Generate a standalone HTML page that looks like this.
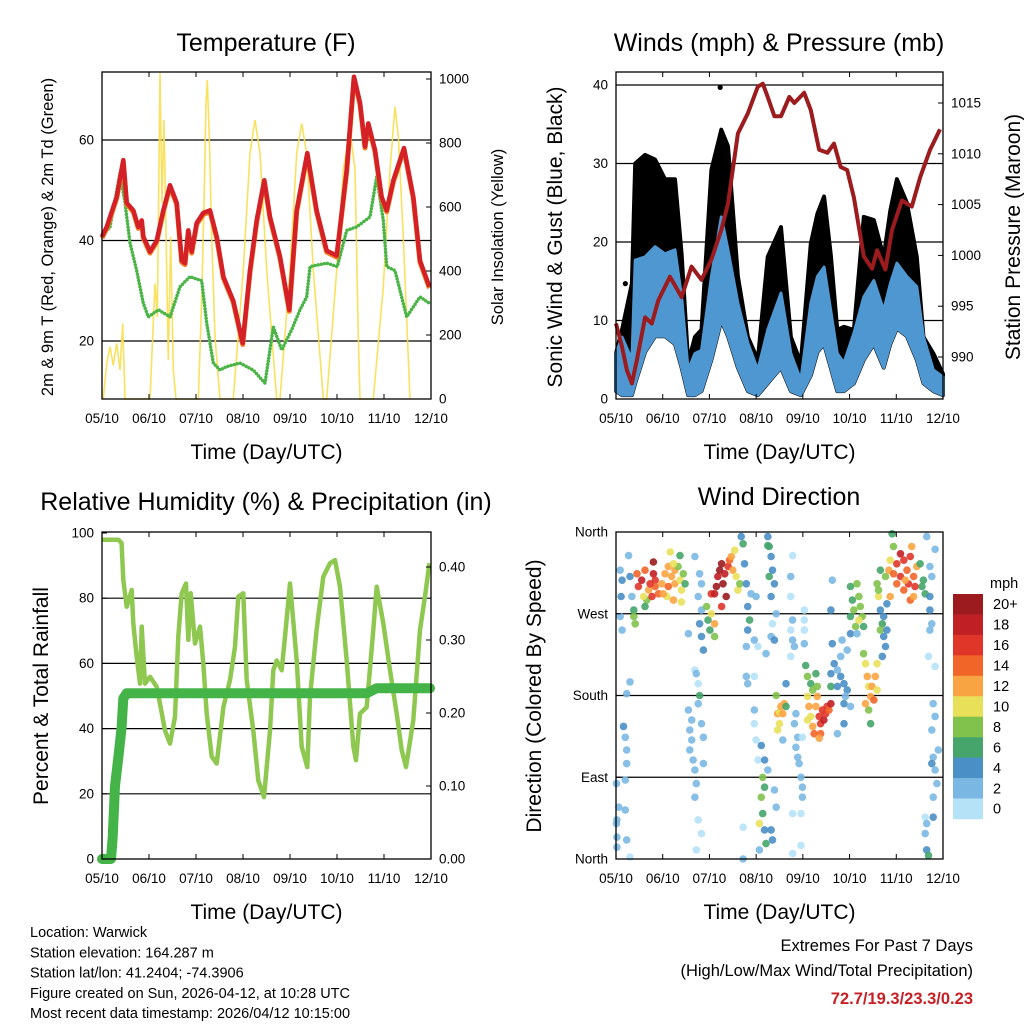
<!DOCTYPE html>
<html><head><meta charset="utf-8">
<style>
html,body{margin:0;padding:0;background:#fff;}
svg{display:block;font-family:"Liberation Sans",Arial,sans-serif;}
</style></head>
<body>
<svg id="chart" width="1024" height="1024" viewBox="0 0 1024 1024">
<rect x="0" y="0" width="1024" height="1024" fill="#fff"/>
<g id="layer"></g>
</svg>
<script>
// ---------- Data ----------
const dayLabels = ["05/10","06/10","07/10","08/10","09/10","10/10","11/10","12/10"];

// Temperature (F)
const tempTimes = [0,0.099,0.312,0.454,0.525,0.667,0.773,0.844,0.879,1.021,1.163,1.305,1.447,1.589,1.695,1.766,1.837,1.908,2.014,2.156,2.298,2.44,2.582,2.794,2.993,3.149,3.291,3.454,3.574,3.787,3.986,4.142,4.369,4.567,4.78,4.993,5.206,5.362,5.489,5.596,5.667,5.809,5.95,6.057,6.199,6.426,6.624,6.766,6.965];
const tempVals = [40.8,42.7,48.7,56,47.5,46,42.7,44,40.8,37.8,40,46,51,47.5,36,35.5,42,37.8,43.5,45.5,46,40.8,32.8,28,19.6,34,44,52,44.7,36.8,26.2,46,57.4,46,38,37,54,72.6,67.4,58.7,63.3,58,48.7,46,52,58.4,48.7,36,30.8];
const dewTimes = [0,0.17,0.383,0.489,0.596,0.738,0.879,0.986,1.199,1.447,1.66,1.872,2.121,2.227,2.369,2.511,2.652,2.936,3.22,3.468,3.645,3.823,4.035,4.213,4.355,4.426,4.78,5.007,5.206,5.418,5.702,5.844,5.986,6.057,6.234,6.482,6.766,6.965];
const dewVals = [40.8,42.7,53.4,47.5,39.5,34,27.5,24.8,26.2,24.8,30.8,32.8,32,23.6,15.6,14.2,14.9,15.6,14.2,11.6,22.8,18.2,22.2,26.2,28.8,34.8,35.5,34.8,42,42.7,44.7,52.7,44,34.8,34,24.8,28.8,27.5];
const solarTimes = [0.028,0.099,0.17,0.241,0.312,0.383,0.44,0.489,1.021,1.128,1.177,1.234,1.277,1.319,1.376,1.411,1.461,1.518,1.574,2.05,2.12,2.17,2.213,2.241,2.284,2.333,2.404,2.511,2.794,3.007,3.149,3.255,3.362,3.504,3.716,3.787,4.0,4.142,4.248,4.355,4.496,4.709,4.78,4.993,5.135,5.277,5.383,5.454,5.489,5.773,5.986,6.128,6.234,6.305,6.411,6.553];
const solarVals = [0,111,163,105,174,90,236,0,0,361,257,1018,611,872,403,122,507,90,0,0,299,611,924,997,820,507,195,0,0,403,768,872,768,403,0,0,403,768,861,768,403,0,0,403,716,841,716,195,0,0,351,716,913,820,507,0];

// Winds (mph) & Pressure (mb)
const windTimes = [0,0.128,0.34,0.411,0.624,0.837,1.05,1.262,1.404,1.546,1.688,1.83,2.043,2.255,2.397,2.61,2.823,3.035,3.248,3.532,3.745,3.957,4.17,4.312,4.454,4.596,4.738,4.879,5.092,5.305,5.518,5.73,5.872,6.014,6.227,6.44,6.582,6.794,7];
const windLow = [1,0.5,0.5,2,6,8,8,7,4,0.5,0.5,1,5,10,8,4,1,0.5,2,4,1,0.5,3,6,7,4,1,1,2,5,7,4,7,9,8,5,2,1,0.5];
const windHigh = [5.8,7.9,5,17.7,18.1,19.4,18.5,19,13,3.7,5.8,6.2,15.6,23.2,19,12.2,7.1,3.7,8.8,13.5,5.8,2.4,12.2,15.6,16.8,11.3,5.8,4.6,8.4,13,15.1,11.3,14.7,17.3,15.6,14.3,7.9,3.7,2.8];
const gustHigh = [5.8,8.8,14.7,30,31.1,30.5,28,28,18.5,4.6,7.9,8.8,29.2,34.3,32.2,15.6,7.9,5,18.1,21.9,7.9,4.6,19.8,23.6,25.8,18.5,8.8,9.2,8.8,23.2,22.8,18.1,24,28,25,18.1,7.9,5.8,3.2];
const gustOutlierTimes = [2.23,0.2];
const gustOutlierVals = [39.7,14.7];
const presTimes = [0,0.128,0.234,0.34,0.447,0.624,0.766,0.908,1.156,1.404,1.617,1.83,2.043,2.255,2.397,2.61,2.823,3.035,3.142,3.248,3.39,3.532,3.709,3.816,4.028,4.17,4.348,4.525,4.667,4.809,4.95,5.092,5.305,5.482,5.589,5.766,5.908,6.121,6.333,6.511,6.723,6.936];
const presVals = [993.3,991.0,988.7,987.4,989.7,993.9,993.3,995.6,997.9,995.9,998.9,997.6,999.6,1002.5,1005.1,1012,1014,1016.6,1016.9,1015.6,1013.7,1013.7,1015.6,1015,1016,1014.3,1010.4,1010.1,1011,1008.7,1008.4,1005.7,999.9,998.7,1000.5,998.6,1002.5,1005.4,1004.8,1007.7,1010.4,1012.4];

// Relative humidity (%) & precipitation (in)
const rhTimes = [0,0.348,0.418,0.454,0.525,0.631,0.667,0.738,0.809,0.844,0.915,1.021,1.163,1.234,1.34,1.447,1.553,1.624,1.695,1.787,1.837,1.887,1.979,2.085,2.156,2.227,2.333,2.44,2.582,2.723,2.83,2.9,3.007,3.078,3.22,3.326,3.447,3.574,3.645,3.716,3.823,3.894,4.0,4.142,4.248,4.369,4.426,4.567,4.709,4.851,4.957,5.064,5.206,5.348,5.404,5.489,5.631,5.773,5.844,5.986,6.128,6.27,6.376,6.468,6.624,6.766,6.872,6.965];
const rhVals = [97.9,97.9,96.9,85.6,77.4,82.5,72.3,62,53.8,71.3,53.8,55.9,52.8,47.6,39.4,35.4,43.6,68.2,81.5,84.5,67.2,81.5,66.1,71.3,60,44.6,31.4,29.3,46.6,54.9,65.1,80.5,81.5,54.9,39.4,24.1,19,39.4,57.9,60.9,57.9,68.2,84.5,60.9,34.4,28.2,49.8,70.3,86.6,90.7,91.7,83.5,60.9,34.4,30.3,44.6,46.6,70.3,83.5,72.3,57.9,44.6,33.4,28.2,42.6,70.3,80.5,90.7];
const precipTimes = [0,0.191,0.227,0.277,0.348,0.418,0.454,0.525,5.63,5.844,6.979];
const precipVals = [0,0,0.03,0.10,0.14,0.18,0.22,0.227,0.227,0.234,0.234];

// Wind direction (deg) colored by speed (mph)
const dirTimes = [
0.09,0.13,0.11,0.09,0.13,0.30,0.34,0.27,0.06,0.02,0.02,0.02,0.01,0.20,0.23,0.23,0.20,0.16,0.23,0.30,0.20,0.23,0.30,0.01,0.38,0.41,0.38,
0.45,0.48,0.55,0.62,0.70,0.66,0.59,0.80,0.80,0.84,0.84,0.91,0.98,1.05,1.09,1.12,1.19,1.26,1.26,1.33,1.37,1.40,1.44,1.48,1.16,1.37,1.23,1.40,0.77,0.62,0.73,1.01,1.12,1.23,
1.69,1.79,1.83,1.76,1.83,1.79,1.69,1.72,1.76,1.79,1.76,1.55,1.62,1.58,1.62,1.58,1.65,1.69,1.72,1.69,1.83,1.87,1.87,1.76,1.83,1.72,1.55,1.83,1.87,
1.94,1.97,2.01,2.04,2.11,2.15,2.18,2.22,2.26,2.29,2.33,2.36,2.26,2.40,2.43,2.47,2.50,2.57,2.61,2.11,2.04,2.11,2.54,2.65,
2.68,2.72,2.75,2.79,2.82,2.86,2.82,2.79,2.89,3.00,3.04,2.96,2.79,2.82,2.96,2.96,2.96,3.00,3.04,3.14,3.18,3.11,3.14,3.07,3.18,3.21,3.32,3.35,3.07,2.72,2.72,3.25,3.28,3.32,3.35,3.39,3.32,3.25,3.28,3.43,3.35,3.32,3.39,3.21,3.11,3.18,3.39,3.43,3.25,3.57,
3.43,3.46,3.50,3.53,3.60,3.57,3.46,3.50,3.64,
3.78,3.74,3.74,3.78,3.74,3.78,3.82,3.74,3.85,3.89,3.85,3.89,3.92,3.96,3.99,3.99,3.96,3.78,3.78,3.96,4.03,4.03,4.03,4.03,3.64,3.82,3.99,
4.06,4.10,4.10,4.13,4.17,4.21,4.24,4.28,4.31,4.35,4.38,4.42,4.45,4.49,4.52,4.56,4.60,4.38,4.17,4.28,4.31,4.21,4.10,4.35,4.60,
4.63,4.67,4.74,4.81,4.88,4.95,4.91,4.81,4.95,4.84,4.60,4.74,4.88,5.02,4.88,4.74,4.63,4.60,
5.02,5.06,5.09,5.16,5.20,5.23,5.27,5.13,5.02,5.30,5.20,5.02,5.16,
5.30,5.34,5.38,5.41,5.45,5.48,5.52,5.55,5.59,5.41,5.45,5.59,5.34,
5.59,5.62,5.66,5.70,5.73,5.77,5.66,5.62,5.73,5.80,5.80,5.70,5.66,5.77,
5.91,5.94,5.87,5.84,5.94,6.01,6.09,6.16,6.23,6.30,6.33,6.37,6.44,6.26,6.16,6.30,6.37,6.51,6.58,6.62,6.55,6.01,5.87,6.40,6.09,6.19,
6.65,6.72,6.72,6.76,6.72,6.69,6.83,6.79,6.83,6.76,6.90,6.79,6.76,6.83,6.87,6.79,6.79,6.62,6.65,6.62,6.65,6.69,6.83,6.72,6.76];
const dirDegs = [
318,307,289,267,252,311,289,334,57,43,24,13,83,87,105,120,134,146,182,195,54,21,2,39,274,259,267,
314,300,307,318,296,285,289,327,314,307,300,292,303,314,289,300,311,318,303,322,307,296,314,303,338,334,285,283,289,278,303,292,322,325,
333,314,303,289,274,259,208,204,193,180,171,164,153,142,131,120,109,98,83,68,149,134,105,43,28,10,248,245,230,
278,263,252,292,292,300,311,318,325,303,314,289,278,322,329,333,318,311,296,259,270,245,340,303,
355,347,325,303,278,263,252,234,292,289,234,241,201,193,201,164,149,131,109,90,79,68,50,39,32,17,32,21,10,0,35,355,344,333,318,303,289,345,311,270,259,245,241,226,125,109,76,57,98,131,
180,160,162,168,171,160,142,149,168,
334,311,289,263,252,241,234,223,160,134,123,112,105,90,79,68,50,50,6,15,274,263,252,237,193,149,134,
213,201,179,168,157,146,138,168,179,157,149,164,153,160,168,164,171,138,193,204,190,186,153,133,190,
237,215,208,201,193,186,179,223,230,241,204,190,171,168,149,138,307,274,
300,285,274,303,289,278,267,256,267,256,263,248,248,
226,215,201,190,179,190,175,201,186,164,149,215,171,
303,289,274,259,245,234,252,296,267,281,252,223,318,311,
358,344,329,318,314,325,336,329,318,333,344,311,322,303,296,285,289,325,307,292,300,303,289,300,311,307,
355,289,274,259,252,223,212,171,157,142,120,112,105,98,83,68,46,46,39,28,10,4,341,322,311];
const dirSpeeds = [
3,4,4,3,2,4,3,2,3,2,2,2,3,3,2,2,2,4,2,2,3,2,1,2,7,9,9,
14,16,18,15,13,8,10,20,18,16,14,15,13,12,10,14,13,12,13,9,10,11,8,6,10,7,12,11,17,7,16,12,12,11,
2,2,3,2,3,4,1,2,1,6,2,2,2,2,2,2,2,3,2,2,3,2,3,1,1,1,2,4,4,
8,7,6,16,19,20,18,20,20,20,18,20,16,16,14,12,13,10,10,12,10,8,10,8,
4,6,4,4,4,6,4,3,3,2,1,3,3,2,1,2,1,1,1,8,7,8,6,10,5,7,4,4,3,3,1,5,6,4,4,4,4,7,7,2,1,3,4,2,4,4,3,2,2,3,
8,12,11,12,12,13,10,10,6,
1,2,1,2,1,2,3,1,3,2,2,2,3,2,2,2,1,1,1,1,1,1,1,3,4,3,1,
6,8,10,12,10,13,14,12,13,16,16,16,18,17,16,14,18,15,7,7,9,8,10,12,6,
4,4,3,4,4,4,3,3,2,3,5,4,4,3,4,2,3,4,
6,7,8,8,8,9,8,9,6,6,10,4,3,
9,10,12,11,13,13,14,12,11,9,6,10,12,
8,10,4,6,4,4,8,9,4,4,4,4,6,8,
6,9,10,12,14,16,18,16,14,16,12,14,12,17,14,14,12,6,6,6,6,14,12,16,16,12,
2,4,4,2,2,1,1,2,2,2,2,3,4,2,3,2,4,1,2,3,4,6,2,2,3];
const speedColors = ["#b6e2f8","#7ab8e3","#4a8fc6","#45a56a","#80c24b","#e9e05a","#f9a443","#f26529","#e0362a","#c11f26","#9b1b1e"];
const speedLabels = ["0","2","4","6","8","10","12","14","16","18","20+"];

const tempTicks = [20,40,60];
const solarTicks = [0,200,400,600,800,1000];
const windTicks = [0,10,20,30,40];
const presTicks = [990,995,1000,1005,1010,1015];
const rhTicks = [0,20,40,60,80,100];
const precipTicks = [0,0.1,0.2,0.3,0.4];
const dirTickVals = [0,90,180,270,360];
const dirTickNames = ["North","East","South","West","North"];

// ---------- Drawing ----------
const NS = "http://www.w3.org/2000/svg";
const layer = document.getElementById('layer');
function mk(tag, attrs, parent){
  const e = document.createElementNS(NS, tag);
  for (const k in attrs) e.setAttribute(k, attrs[k]);
  (parent||layer).appendChild(e);
  return e;
}
function txt(x,y,s,size,anchor,extra,parent){
  const e = mk('text',Object.assign({x:x,y:y,'font-size':size,'text-anchor':anchor||'middle',fill:'#000'},extra||{}),parent);
  e.textContent = s;
  return e;
}
function xScale(P,t){ return P.x0 + t*(P.x1-P.x0)/7; }
function pathFrom(P, ts, vs, yf){
  let d='';
  for(let i=0;i<ts.length;i++){ d += (i?'L':'M') + xScale(P,ts[i]).toFixed(1)+','+yf(vs[i]).toFixed(1); }
  return d;
}
function bandFrom(P, ts, top, bot, yf){
  let d='';
  for(let i=0;i<ts.length;i++) d += (i?'L':'M') + xScale(P,ts[i]).toFixed(1)+','+yf(top[i]).toFixed(1);
  for(let i=ts.length-1;i>=0;i--) d += 'L' + xScale(P,ts[i]).toFixed(1)+','+yf(bot[i]).toFixed(1);
  return d+'Z';
}
function frame(P, name){
  const g = mk('g',{});
  
  
  mk('rect',{x:P.x0,y:P.y0,width:P.x1-P.x0,height:P.y1-P.y0,fill:'none',stroke:'#000','stroke-width':1.3},g);
  const xa = mk('g',{},g);
  
  
  for(let i=0;i<8;i++){
    const x = xScale(P,i);
    mk('line',{x1:x,x2:x,y1:P.y1,y2:P.y1-5,stroke:'#000','stroke-width':1},xa);
    mk('line',{x1:x,x2:x,y1:P.y0,y2:P.y0+5,stroke:'#000','stroke-width':1},xa);
    const l = txt(x,P.y1+24,dayLabels[i],13.5,'middle',{},xa);
    
    
  }
  const xt = txt((P.x0+P.x1)/2, P.y1+60, 'Time (Day/UTC)', 21, 'middle', {}, xa);
  
  
}
function grid(P, vals, yf, name, col){
  const g = mk('g',{});
  
  
  vals.forEach(v=>{ const y=yf(v); if(y>P.y0+1 && y<P.y1-1) mk('line',{x1:P.x0,x2:P.x1,y1:y,y2:y,stroke:col||'#000','stroke-width':1.2},g); });
}
function yTicks(P, vals, labels, yf, side, name){
  const g = mk('g',{});
  
  
  vals.forEach((v,i)=>{
    const y = yf(v);
    if(side==='left'){
      mk('line',{x1:P.x0,x2:P.x0+5,y1:y,y2:y,stroke:'#000'},g);
      txt(P.x0-8,y+4.5,labels[i],13.5,'end',{},g);
    } else {
      mk('line',{x1:P.x1,x2:P.x1-5,y1:y,y2:y,stroke:'#000'},g);
      txt(P.x1+8,y+4.5,labels[i],13.5,'start',{},g);
    }
  });
}
function vTitle(x,y,s,size,name){
  const e = txt(x,y,s,size,'middle',{transform:'rotate(-90 '+x+' '+y+')'});
  
  
}
function title(x,y,s,name){
  const e = txt(x,y,s,25,'middle');
  
  
}

// Panel 1: Temperature
const P1 = {x0:102,x1:431,y0:72,y1:399};
const yT = v => 341 - (v-20)*5.025;
const yS = v => 399 - v*0.32;
grid(P1,tempTicks,yT,'temp-gridlines');
let e = mk('path',{d:pathFrom(P1,solarTimes,solarVals,yS),fill:'none',stroke:'#f8de4e','stroke-width':1.6,'stroke-opacity':0.9});


e = mk('path',{d:pathFrom(P1,dewTimes,dewVals,yT),fill:'none',stroke:'#4bb446','stroke-width':3.5,'stroke-linecap':'round','stroke-dasharray':'0 3.2'});


e = mk('path',{d:pathFrom(P1,tempTimes,tempVals,v=>yT(v)+1.5),fill:'none',stroke:'#f57f25','stroke-width':5,'stroke-linejoin':'round'});


e = mk('path',{d:pathFrom(P1,tempTimes,tempVals,yT),fill:'none',stroke:'#d42027','stroke-width':4.5,'stroke-linejoin':'round'});


frame(P1,'temperature');
yTicks(P1,tempTicks,tempTicks.map(String),yT,'left','temp-y-ticks');
yTicks(P1,solarTicks,solarTicks.map(String),yS,'right','solar-y-ticks');
title(266,51,'Temperature (F)','temperature-title');
vTitle(53,237,'2m & 9m T (Red, Orange) & 2m Td (Green)',16.5,'temp-y-axis-title');
vTitle(503,237,'Solar Insolation (Yellow)',16.5,'solar-y-axis-title');

// Panel 2: Winds
const P2 = {x0:616,x1:943,y0:72,y1:399};
const yW = v => 399 - v*7.85;
const yP = v => 357 - (v-990)*10.16;
grid(P2,windTicks,yW,'wind-gridlines');
e = mk('path',{d:bandFrom(P2,windTimes,gustHigh,windLow,yW),fill:'#000',stroke:'#000','stroke-width':4,'stroke-linejoin':'round'});


gustOutlierTimes.forEach((t,i)=>{
  const c = mk('circle',{cx:xScale(P2,t),cy:yW(gustOutlierVals[i]),r:2.6,fill:'#000'});
  
  
});
e = mk('path',{d:bandFrom(P2,windTimes,windHigh,windLow,yW),fill:'#4f97d1',stroke:'#4f97d1','stroke-width':3,'stroke-linejoin':'round'});


e = mk('path',{d:pathFrom(P2,presTimes,presVals,yP),fill:'none',stroke:'#9b1b1e','stroke-width':4,'stroke-linejoin':'round'});


frame(P2,'winds');
yTicks(P2,windTicks,windTicks.map(String),yW,'left','wind-y-ticks');
yTicks(P2,presTicks,presTicks.map(String),yP,'right','pressure-y-ticks');
title(779,51,'Winds (mph) & Pressure (mb)','winds-title');
vTitle(562,237,'Sonic Wind & Gust (Blue, Black)',21,'wind-y-axis-title');
vTitle(1020,237,'Station Pressure (Maroon)',21,'pressure-y-axis-title');

// Panel 3: RH & precip
const P3 = {x0:102,x1:431,y0:532,y1:859};
const yR = v => 859 - v*3.26;
const yPr = v => 859 - v*730;
grid(P3,[20,40,60,80],yR,'rh-gridlines');
e = mk('path',{d:pathFrom(P3,rhTimes,rhVals,yR),fill:'none',stroke:'#8fc850','stroke-width':4.5,'stroke-linejoin':'round'});


e = mk('path',{d:pathFrom(P3,precipTimes,precipVals,yPr),fill:'none',stroke:'#44b348','stroke-width':10,'stroke-linejoin':'round','stroke-linecap':'round'});


frame(P3,'humidity');
yTicks(P3,rhTicks,rhTicks.map(String),yR,'left','rh-y-ticks');
yTicks(P3,precipTicks,precipTicks.map(v=>v.toFixed(2)),yPr,'right','precip-y-ticks');
title(266,510,'Relative Humidity (%) & Precipitation (in)','humidity-title');
vTitle(48,696,'Percent & Total Rainfall',21,'rh-y-axis-title');

// Panel 4: Wind direction
const P4 = {x0:616,x1:943,y0:532,y1:859};
const yD = v => 859 - v*0.9083;
grid(P4,[90,180,270],yD,'direction-gridlines');
function speedIdx(s){ return Math.max(0,Math.min(10,Math.floor(s/2))); }
const dg = mk('g',{});


dirTimes.forEach((t,i)=>{
  const c = mk('circle',{cx:xScale(P4,t).toFixed(1),cy:yD(dirDegs[i]).toFixed(1),r:3.8,fill:speedColors[speedIdx(dirSpeeds[i])],'fill-opacity':0.9},dg);
  
  
});
frame(P4,'direction');
yTicks(P4,dirTickVals,dirTickNames,yD,'left','direction-y-ticks');
title(779,505,'Wind Direction','direction-title');
vTitle(541,696,'Direction (Colored By Speed)',21,'direction-y-axis-title');

// Colorbar
const cb = mk('g',{});


const cbTop=594, cbH=20.45;
for(let i=0;i<11;i++){
  const idx = 10-i;
  const y = cbTop + i*cbH;
  const r = mk('rect',{x:953,y:y,width:30,height:cbH+0.3,fill:speedColors[idx]},cb);
  
  
  txt(993,y+cbH/2+5,speedLabels[idx],14.5,'start',{},cb);
}
txt(990,588,'mph',14.5,'start',{},cb);

// Footer
const foot = ["Location: Warwick","Station elevation: 164.287 m","Station lat/lon: 41.2404; -74.3906","Figure created on Sun, 2026-04-12, at 10:28 UTC","Most recent data timestamp: 2026/04/12 10:15:00"];
const fg = mk('g',{});


foot.forEach((s,i)=>txt(30,937+i*20.3,s,14.5,'start',{},fg));
const eg = mk('g',{});


txt(973,951,'Extremes For Past 7 Days',16.5,'end',{},eg);
txt(973,976,'(High/Low/Max Wind/Total Precipitation)',16.5,'end',{},eg);
txt(973,1004,'72.7/19.3/23.3/0.23',16.5,'end',{fill:'#c81f25','font-weight':'bold'},eg);
</script>
</body></html>
